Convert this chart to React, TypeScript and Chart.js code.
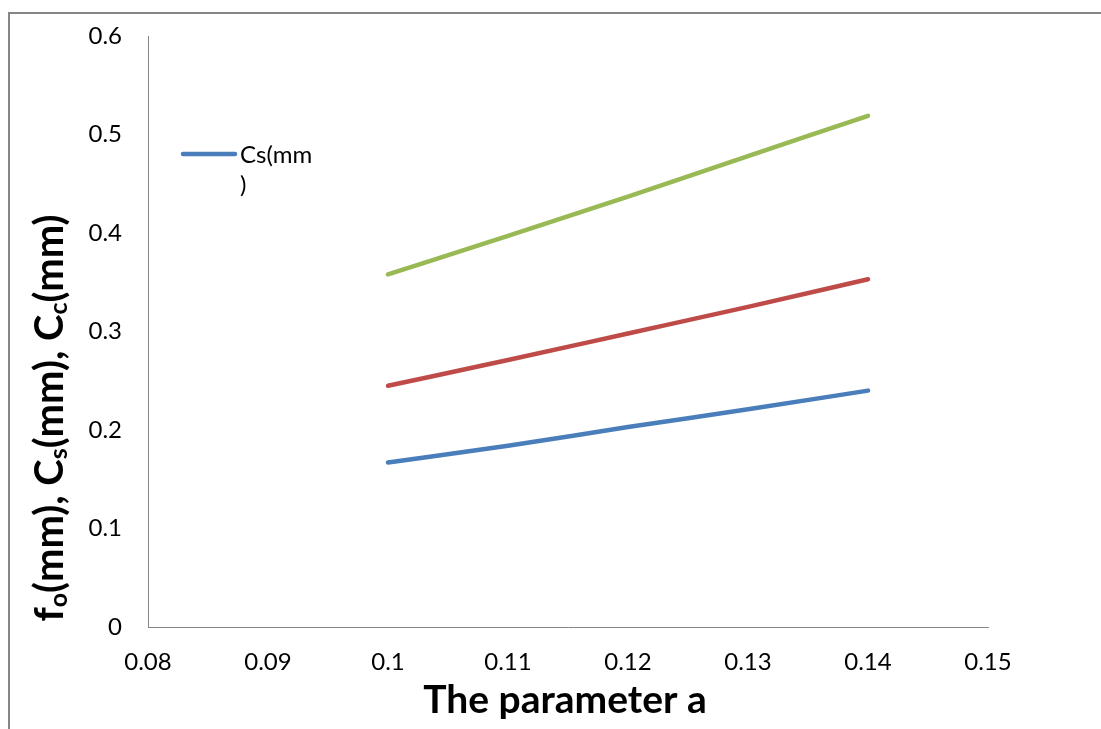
import { useEffect, useRef } from "react";
import { Chart, registerables } from "chart.js";

Chart.register(...registerables);

const xValues = [0.1, 0.11, 0.12, 0.13, 0.14];
const csValues = [0.167, 0.184, 0.203, 0.221, 0.24];
const foValues = [0.245, 0.271, 0.298, 0.325, 0.353];
const ccValues = [0.358, 0.397, 0.437, 0.478, 0.519];
const seriesLabels = ["Cs(mm)", "fo(mm)", "Cc(mm)"];
const seriesColors = ["#4A7EBB", "#BE4B48", "#98B954"];
const xTickValues = [0.08, 0.09, 0.1, 0.11, 0.12, 0.13, 0.14, 0.15];
const yTickValues = [0, 0.1, 0.2, 0.3, 0.4, 0.5, 0.6];
const legendLines = ["Cs(mm", ")"];
const xTitle = "The parameter a";
const yTitleParts: [string, boolean][] = [
  ["f", false],
  ["o", true],
  ["(mm), C", false],
  ["s", true],
  ["(mm), C", false],
  ["c", true],
  ["(mm)", false],
];

const FONT = "Lato, 'Open Sans', sans-serif";
const AXIS_GRAY = "#868686";

const decorPlugin = {
  id: "decor",
  beforeDraw(chart: any) {
    const ctx = chart.ctx as CanvasRenderingContext2D;
    ctx.save();
    ctx.fillStyle = "#ffffff";
    ctx.fillRect(0, 0, chart.width, chart.height);
    ctx.strokeStyle = AXIS_GRAY;
    ctx.lineWidth = 2;
    ctx.strokeRect(9, 13, chart.width + 100, chart.height + 100);
    ctx.restore();
  },
  afterDraw(chart: any) {
    const ctx = chart.ctx as CanvasRenderingContext2D;
    ctx.save();
    // legend (only first entry visible)
    ctx.strokeStyle = seriesColors[0];
    ctx.lineWidth = 4.5;
    ctx.lineCap = "round";
    ctx.beginPath();
    ctx.moveTo(183, 154);
    ctx.lineTo(235, 154);
    ctx.stroke();
    ctx.fillStyle = "#000";
    ctx.font = `24px ${FONT}`;
    ctx.textBaseline = "middle";
    ctx.textAlign = "left";
    legendLines.forEach((line, i) => ctx.fillText(line, 240, 155 + i * 30));

    // x title
    ctx.font = `bold 39px ${FONT}`;
    ctx.textAlign = "center";
    ctx.textBaseline = "alphabetic";
    ctx.fillText(xTitle, 565, 713);

    // y title with subscripts
    const mainFont = `bold 40px ${FONT}`;
    const subFont = `bold 25px ${FONT}`;
    let total = 0;
    yTitleParts.forEach(([t, sub]) => {
      ctx.font = sub ? subFont : mainFont;
      total += ctx.measureText(t).width;
    });
    ctx.translate(63, 418);
    ctx.rotate(-Math.PI / 2);
    ctx.textAlign = "left";
    let x = -total / 2;
    yTitleParts.forEach(([t, sub]) => {
      ctx.font = sub ? subFont : mainFont;
      ctx.fillText(t, x, sub ? 4 : 0);
      x += ctx.measureText(t).width;
    });
    ctx.restore();
  },
};

const fmt = (v: number) => String(Number(v.toFixed(2)));

export default function App() {
  const ref = useRef<HTMLCanvasElement | null>(null);
  useEffect(() => {
    if (!ref.current) return;
    const series = [csValues, foValues, ccValues];
    const chart = new Chart(ref.current, {
      type: "line",
      data: {
        datasets: series.map((vals, i) => ({
          label: seriesLabels[i],
          data: xValues.map((x, j) => ({ x, y: vals[j] })),
          borderColor: seriesColors[i],
          backgroundColor: seriesColors[i],
          borderWidth: 4.5,
          borderCapStyle: "round" as const,
          pointRadius: 0,
          tension: 0.4,
          cubicInterpolationMode: "monotone" as const,
          fill: false,
        })),
      },
      options: {
        animation: false,
        responsive: false,
        devicePixelRatio: 1,
        layout: { padding: { left: 0, top: 36, right: 113, bottom: 0 } },
        plugins: { legend: { display: false }, tooltip: { enabled: false } },
        scales: {
          x: {
            type: "linear",
            min: 0.08,
            max: 0.15,
            afterBuildTicks: (s: any) => {
              s.ticks = xTickValues.map((value) => ({ value }));
            },
            afterFit: (s: any) => {
              s.height = 102;
              s.paddingLeft = 0;
              s.paddingRight = 0;
            },
            grid: { display: false, drawTicks: false },
            border: { display: true, color: AXIS_GRAY, width: 1 },
            ticks: {
              padding: 21,
              color: "#000",
              font: { family: FONT, size: 24 },
              callback: (v: any) => fmt(Number(v)),
              maxRotation: 0,
              autoSkip: false,
            },
          },
          y: {
            type: "linear",
            min: 0,
            max: 0.6,
            afterBuildTicks: (s: any) => {
              s.ticks = yTickValues.map((value) => ({ value }));
            },
            afterFit: (s: any) => {
              s.width = 148;
              s.paddingTop = 0;
              s.paddingBottom = 0;
            },
            grid: { display: false, drawTicks: false },
            border: { display: true, color: AXIS_GRAY, width: 1 },
            ticks: {
              padding: 26,
              color: "#000",
              font: { family: FONT, size: 24 },
              callback: (v: any) => fmt(Number(v)),
              autoSkip: false,
            },
          },
        },
      },
      plugins: [decorPlugin],
    });
    return () => chart.destroy();
  }, []);
  return (
    <div style={{ position: "absolute", left: 0, top: 0, width: 1101, height: 729 }}>
      <canvas ref={ref} width={1101} height={729} style={{ display: "block" }} />
    </div>
  );
}
